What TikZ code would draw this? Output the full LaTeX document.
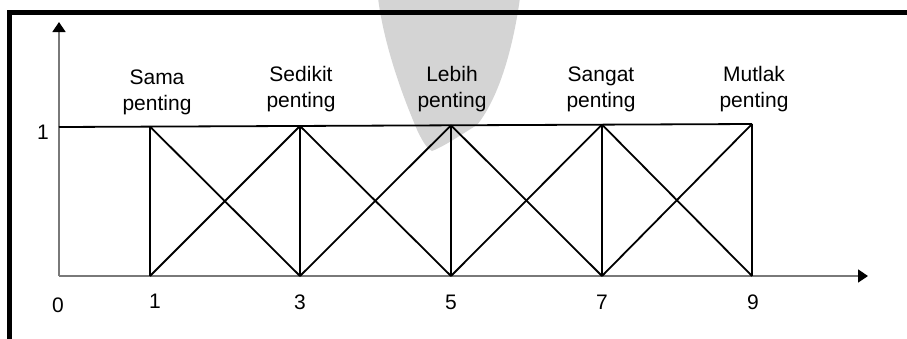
\documentclass[tikz,border=0pt]{standalone}
\usepackage{fontspec}
\setmainfont{Liberation Sans}
\usetikzlibrary{arrows.meta}

\begin{document}
\begin{tikzpicture}[x=1pt,y=-1pt,
    axisline/.style={draw=gray!95!black, line width=1.5pt,
      -{Triangle[length=10pt,width=13pt,color=black]}},
    scaleline/.style={draw=black, line width=1.8pt},
    toplabel/.style={align=center, inner sep=0pt,
      font=\fontsize{21}{26}\selectfont},
    ticklabel/.style={inner sep=0pt, font=\fontsize{21}{24}\selectfont}]
  \useasboundingbox (0,0) rectangle (907,338);

  % soft grey shape behind the middle label
  \fill[gray!34] (378,-2) .. controls (384,45) and (402,95) .. (418,132)
    .. controls (423,142) and (428,150) .. (432,151)
    .. controls (445,146) and (462,134) .. (477,125)
    .. controls (497,100) and (512,55) .. (520,-2) -- cycle;

  % frame along the top and the left side
  \draw[line width=5pt] (9.5,340) -- (9.5,12.5) -- (910,12.5);

  % axes
  \coordinate (o) at (59,276);
  \coordinate (ytip) at (59,22);
  \coordinate (xtip) at (868,276);
  \draw[axisline] (o) -- (ytip);
  \draw[axisline] (o) -- (xtip);

  % peaks on the level 1 and their feet on the horizontal axis
  \coordinate (one) at (59,127);
  \coordinate (p1) at (150,126.6);
  \coordinate (p3) at (300,126);
  \coordinate (p5) at (451,125.3);
  \coordinate (p7) at (602,124.6);
  \coordinate (p9) at (752,124);
  \coordinate (b1) at (150,276);
  \coordinate (b3) at (300,276);
  \coordinate (b5) at (451,276);
  \coordinate (b7) at (602,276);
  \coordinate (b9) at (752,276);

  \draw[scaleline] (one) -- (p9);
  \foreach \k in {1,3,5,7,9} {
    \draw[scaleline] (p\k) -- (b\k);
  }
  \foreach \a/\b in {1/3,3/5,5/7,7/9} {
    \draw[scaleline] (p\a) -- (b\b);
    \draw[scaleline] (b\a) -- (p\b);
  }

  % labels of the scale
  \node[toplabel] (l1) at (157,92) {Sama\\penting};
  \node[toplabel] (l3) at (301,89) {Sedikit\\penting};
  \node[toplabel] (l5) at (452,89) {Lebih\\penting};
  \node[toplabel] (l7) at (601,89) {Sangat\\penting};
  \node[toplabel] (l9) at (754,89) {Mutlak\\penting};

  % axis numbers
  \node[ticklabel] (n0) at (58,305) {0};
  \node[ticklabel] (n1) at (155,301) {1};
  \node[ticklabel] (n3) at (300,302) {3};
  \node[ticklabel] (n5) at (451,302) {5};
  \node[ticklabel] (n7) at (602,302) {7};
  \node[ticklabel] (n9) at (753,302) {9};
  \node[ticklabel] (y1) at (43,132) {1};
\end{tikzpicture}
\end{document}
